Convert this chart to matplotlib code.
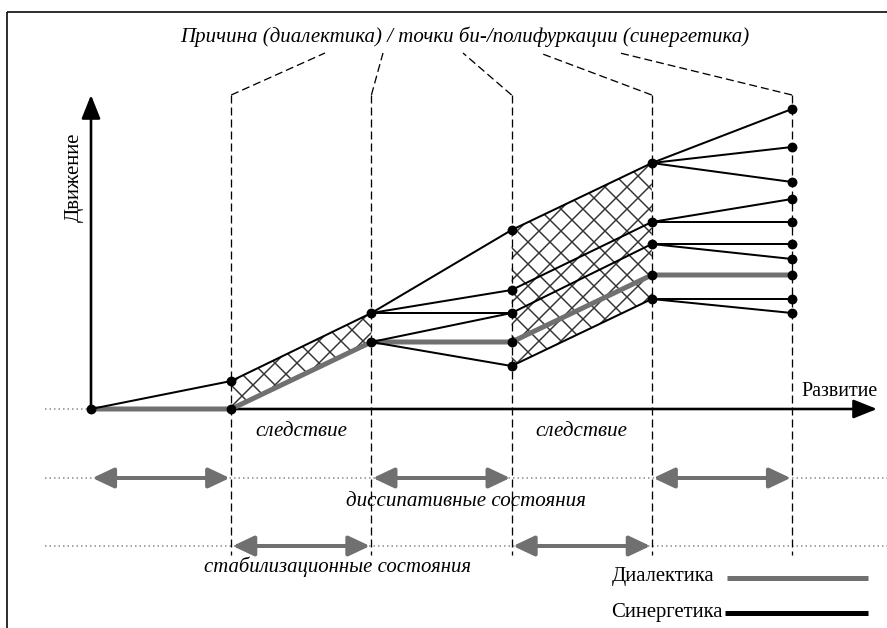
import matplotlib
matplotlib.use("Agg")
import matplotlib.pyplot as plt
from matplotlib.patches import Polygon, ArrowStyle

plt.rcParams['font.family'] = ['Liberation Serif', 'DejaVu Serif']
plt.rcParams['hatch.linewidth'] = 0.8
plt.rcParams['lines.scale_dashes'] = False

DPI = 132

# stages along "Развитие" (x) and levels of "Движение" (y)
stages = [0, 1, 2, 3, 4, 5]
dialectics = [0.0, 0.0, 6.7, 6.7, 13.4, 13.4]

# synergetic branches between stage i and i+1: (level at i, level at i+1)
syn_01 = [(0.0, 2.8)]
syn_12 = [(2.8, 9.6)]
syn_23 = [(9.6, 17.9), (9.6, 11.9), (9.6, 9.6), (6.7, 9.6), (6.7, 4.3)]
syn_34 = [(17.9, 24.6), (11.9, 18.7), (9.6, 16.5), (4.3, 11.0)]
syn_45 = [(24.6, 30.0), (24.6, 26.2), (24.6, 22.7), (18.7, 21.0), (18.7, 18.7),
          (16.5, 16.5), (16.5, 15.0), (11.0, 11.0), (11.0, 9.6)]
synergetics = [syn_01, syn_12, syn_23, syn_34, syn_45]

# hatched "следствие" zones: start stage, top (from, to), bottom (from, to)
consequence_zones = [(1, (2.8, 9.6), (0.0, 6.7)),
                     (3, (17.9, 24.6), (4.3, 11.0))]

bifurcation_stages = [1, 2, 3, 4, 5]
dissipative = [(0, 1), (2, 3), (4, 5)]
stabilization = [(1, 2), (3, 4)]

title = "Причина (диалектика) / точки би-/полифуркации (синергетика)"

GREY = '#707070'


# pixel helpers for layout of the picture
def X(px):
    return (px - 91) / 140.2


def Y(py):
    return (409 - py) / 10.0


def pt(px):
    return px * 72.0 / DPI


fig = plt.figure(figsize=(887 / DPI, 628 / DPI), dpi=DPI)
ax = fig.add_axes([0, 0, 1, 1])
ax.set_xlim(X(0), X(887))
ax.set_ylim(Y(628), Y(0))
ax.axis('off')

# frame (top and left only are visible)
ax.plot([X(7), X(887)], [Y(12), Y(12)], color='black', lw=pt(1.6), solid_capstyle='butt')
ax.plot([X(7), X(7)], [Y(12), Y(628)], color='black', lw=pt(1.6), solid_capstyle='butt')

# hatched zones
for s, top, bot in consequence_zones:
    poly = Polygon([(s, bot[0]), (s, top[0]), (s + 1, top[1]), (s + 1, bot[1])],
                   closed=True, facecolor='none', edgecolor='#333333',
                   hatch='xx', lw=0, zorder=1)
    ax.add_patch(poly)

# dashed stage lines with leaders to the title
dash = (0, (pt(8), pt(4)))
leader_tips = [325, 383, 463, 540, 620]
for s, tip in zip(bifurcation_stages, leader_tips):
    ax.plot([s, s], [Y(95), Y(555)], color='black', lw=pt(1.3), linestyle=dash, zorder=1.5)
    ax.plot([s, X(tip)], [Y(95), Y(53)], color='black', lw=pt(1.3), linestyle=dash, zorder=1.5)

# dotted guide lines
dot = (0, (pt(1.5), pt(3)))
ax.plot([X(45), 0], [0, 0], color='#888888', lw=pt(1.5), linestyle=dot)
for yy in (Y(478), Y(546)):
    ax.plot([X(45), X(887)], [yy, yy], color='#888888', lw=pt(1.5), linestyle=dot, zorder=0.5)

# axes
ax_style = ArrowStyle('-|>', head_length=pt(20) / 10, head_width=pt(8) / 10)
ax.annotate('', xy=(X(877), 0), xytext=(0, 0),
            arrowprops=dict(arrowstyle=ax_style, color='black', lw=pt(2.6),
                            mutation_scale=10, shrinkA=0, shrinkB=0), zorder=2)
ax.annotate('', xy=(0, Y(95)), xytext=(0, 0),
            arrowprops=dict(arrowstyle=ax_style, color='black', lw=pt(2.6),
                            mutation_scale=10, shrinkA=0, shrinkB=0), zorder=2)

# dialectics path
ax.plot(stages, dialectics, color=GREY, lw=pt(5), solid_capstyle='butt', zorder=3)

# synergetics branches
nodes = set()
for i, branch in enumerate(synergetics):
    for a, b in branch:
        ax.plot([stages[i], stages[i + 1]], [a, b], color='black', lw=pt(2), zorder=4)
        nodes.add((stages[i], a))
        nodes.add((stages[i + 1], b))
for s, v in zip(stages, dialectics):
    nodes.add((s, v))
nx, ny = zip(*sorted(nodes))
ax.plot(nx, ny, 'o', color='black', ms=pt(8), zorder=5, lw=0)

# state arrows
st_style = ArrowStyle('<|-|>', head_length=pt(18) / 10, head_width=pt(8.5) / 10)
for row, pairs in ((Y(478), dissipative), (Y(546), stabilization)):
    for a, b in pairs:
        ax.annotate('', xy=(b - 0.01, row), xytext=(a + 0.01, row),
                    arrowprops=dict(arrowstyle=st_style, color=GREY, lw=pt(4),
                                    mutation_scale=10, shrinkA=0, shrinkB=0))

# texts
ax.text(X(465), Y(37), title, ha='center', va='center', style='italic', fontsize=pt(20.9))
ax.text(X(74), Y(177), "Движение", ha='center', va='center', rotation=90, fontsize=pt(20.8))
ax.text(X(878), Y(392), "Развитие", ha='right', va='center', fontsize=pt(20))
for s in (1.5, 3.5):
    ax.text(s, Y(432), "следствие", ha='center', va='center', style='italic', fontsize=pt(21))
ax.text(X(466), Y(501), "диссипативные состояния", ha='center', va='center',
        style='italic', fontsize=pt(21))
ax.text(X(338), Y(567), "стабилизационные состояния", ha='center', va='center',
        style='italic', fontsize=pt(20.8))

# legend
ax.text(X(714), Y(577), "Диалектика", ha='right', va='center', fontsize=pt(20.8))
ax.plot([X(727), X(868)], [Y(578), Y(578)], color=GREY, lw=pt(5), solid_capstyle='butt')
ax.text(X(723), Y(613), "Синергетика", ha='right', va='center', fontsize=pt(20.8))
ax.plot([X(725), X(868)], [Y(613), Y(613)], color='black', lw=pt(5), solid_capstyle='butt')

fig.savefig("out.png", dpi=DPI)
